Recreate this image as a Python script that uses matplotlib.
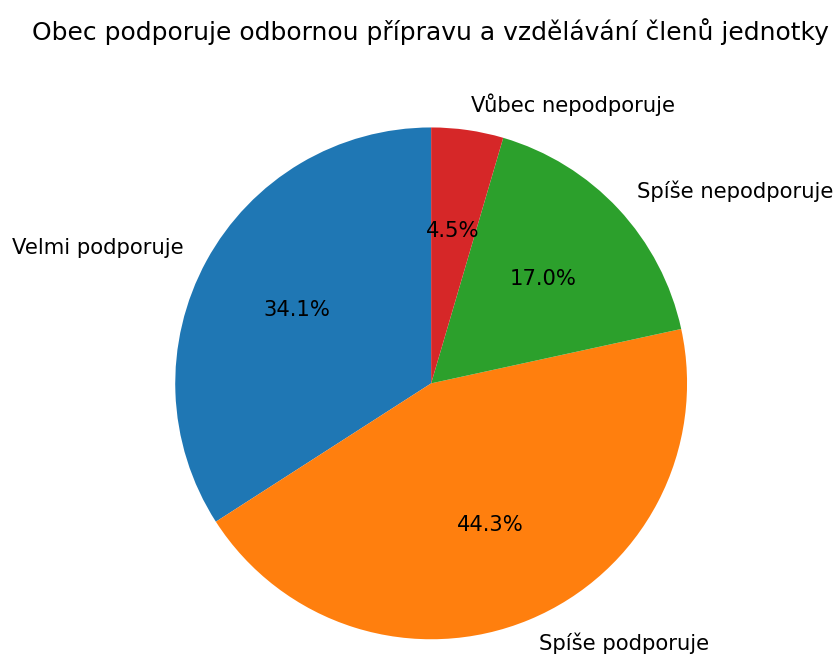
import matplotlib.pyplot as plt

labels = ['Velmi podporuje', 'Spíše podporuje', 'Spíše nepodporuje', 'Vůbec nepodporuje']
counts = [30, 39, 15, 4]
title = 'Obec podporuje odbornou přípravu a vzdělávání členů jednotky'

fig = plt.figure(figsize=(8.38, 6.57), dpi=100)
ax = fig.add_axes([0.209, 0.027, 0.611, 0.779])
ax.pie(counts, labels=labels, autopct='%1.1f%%', startangle=90,
       textprops={'fontsize': 15.2})
ax.set_xlim(-1, 1)
ax.set_ylim(-1, 1)
ax.set_aspect('equal')
fig.text(0.514, 1 - 32 / 657, title, ha='center', va='center', fontsize=18)
fig.savefig('out.png', dpi=100)
